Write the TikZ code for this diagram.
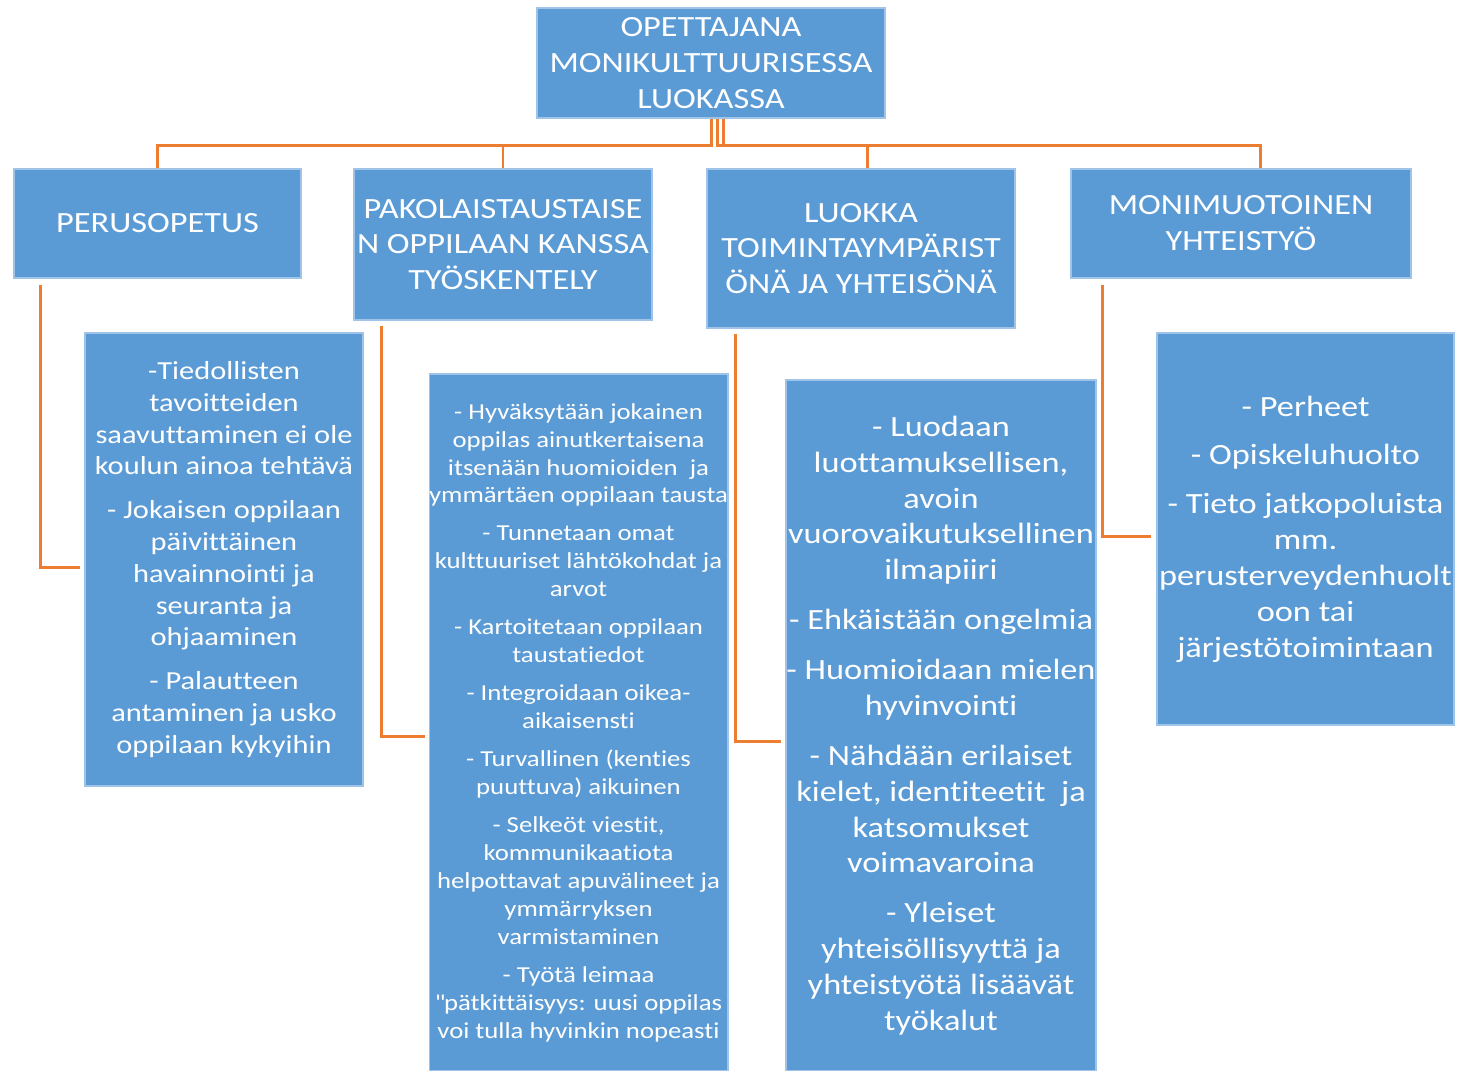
\documentclass[tikz,border=0pt]{standalone}
\usepackage{fontspec}
\setmainfont{Carlito}[FakeStretch=1.17,Ligatures={TeXOff,NoCommon}]
\definecolor{boxblue}{RGB}{91,155,213}
\definecolor{boxedge}{RGB}{160,196,232}
\definecolor{linkorange}{RGB}{237,125,49}
\begin{document}
\begin{tikzpicture}[
  box/.style={draw=boxedge,fill=boxblue,text=white,align=center,inner sep=0pt,line width=0.6pt},
  head/.style={box,font=\fontsize{16.7}{20.4}\selectfont},
  item/.style={box,font=\fontsize{16.7}{20.4}\selectfont},
  mid/.style={box,font=\fontsize{14.8}{18.1}\selectfont},
  small/.style={box,font=\fontsize{13}{15.9}\selectfont},
  link/.style={draw=linkorange,line width=1.7pt}]
\useasboundingbox (0,0) rectangle (29.18,21.42);
% top of the chart
\node[head,minimum width=6.96cm,minimum height=2.20cm] (top) at (14.22,20.16) {OPETTAJANA\\ MONIKULTTUURISESSA\\ LUOKASSA};
% first level
\node[head,minimum width=5.74cm,minimum height=2.18cm] (perus) at (3.15,16.95) {PERUSOPETUS};
\node[head,minimum width=5.96cm,minimum height=3.02cm] (pako) at (10.06,16.53) {PAKOLAISTAUSTAISE\\ N OPPILAAN KANSSA\\ TYÖSKENTELY};
\node[head,minimum width=6.16cm,minimum height=3.18cm] (luokka) at (17.22,16.45) {LUOKKA\\ TOIMINTAYMPÄRIST\\ ÖNÄ JA YHTEISÖNÄ};
\node[head,minimum width=6.80cm,minimum height=2.18cm] (moni) at (24.82,16.95) {MONIMUOTOINEN\\ YHTEISTYÖ};
\draw[link] (top.south) -- ++(0,-0.54) -| (perus.north);
\draw[link] (top.south) -- ++(0,-0.54) -| (pako.north);
\draw[link] ([xshift=0.12cm]top.south) -- ++(0,-0.54) -| ([xshift=0.12cm]luokka.north);
\draw[link] ([xshift=0.24cm]top.south) -- ++(0,-0.54) -| ([xshift=0.38cm]moni.north);
% second level
\node[mid,minimum width=5.56cm,minimum height=9.06cm] (perusD) at (4.48,10.23) {-Tiedollisten\\ tavoitteiden\\ saavuttaminen ei ole\\ koulun ainoa tehtävä\\[6.8pt]
  - Jokaisen oppilaan\\ päivittäinen\\ havainnointi ja\\ seuranta ja\\ ohjaaminen\\[6.8pt]
  - Palautteen\\ antaminen ja usko\\ oppilaan kykyihin};
\node[small,minimum width=5.94cm,minimum height=13.94cm] (pakoD) at (11.57,6.97) {- Hyväksytään jokainen\\ oppilas ainutkertaisena\\ itsenään huomioiden~ ja\\ ymmärtäen oppilaan tausta\\[5.7pt]
  - Tunnetaan omat\\ kulttuuriset lähtökohdat ja\\ arvot\\[5.7pt]
  - Kartoitetaan oppilaan\\ taustatiedot\\[5.7pt]
  - Integroidaan oikea-\\ aikaisensti\\[5.7pt]
  - Turvallinen (kenties\\ puuttuva) aikuinen\\[5.7pt]
  - Selkeöt viestit,\\ kommunikaatiota\\ helpottavat apuvälineet ja\\ ymmärryksen\\ varmistaminen\\[5.7pt]
  - Työtä leimaa\\ \XeTeXglyph\XeTeXcharglyph"22 pätkittäisyys: uusi oppilas\\ voi tulla hyvinkin nopeasti};
\node[item,minimum width=6.20cm,minimum height=13.82cm] (luokkaD) at (18.82,6.91) {- Luodaan\\ luottamuksellisen,\\ avoin\\ vuorovaikutuksellinen\\ ilmapiiri\\[8pt]
  - Ehkäistään ongelmia\\[8pt]
  - Huomioidaan mielen\\ hyvinvointi\\[8pt]
  - Nähdään erilaiset\\ kielet, identiteetit~ ja\\ katsomukset\\ voimavaroina\\[8pt]
  - Yleiset\\ yhteisöllisyyttä ja\\ yhteistyötä lisäävät\\ työkalut};
\node[item,minimum width=5.94cm,minimum height=7.84cm] (moniD) at (26.11,10.84) {- Perheet\\[7.4pt]
  - Opiskeluhuolto\\[7.4pt]
  - Tieto jatkopoluista\\ mm.\\ perusterveydenhuolt\\ oon tai\\ järjestötoimintaan};
\draw[link] ([xshift=0.54cm,yshift=-0.12cm]perus.south west) |- ([xshift=-0.08cm,yshift=-0.17cm]perusD.west);
\draw[link] ([xshift=0.56cm,yshift=-0.10cm]pako.south west) |- ([xshift=-0.08cm,yshift=-0.29cm]pakoD.west);
\draw[link] ([xshift=0.58cm,yshift=-0.10cm]luokka.south west) |- ([xshift=-0.08cm,yshift=-0.33cm]luokkaD.west);
\draw[link] ([xshift=0.64cm,yshift=-0.12cm]moni.south west) |- ([xshift=-0.10cm,yshift=-0.16cm]moniD.west);
\end{tikzpicture}
\end{document}
